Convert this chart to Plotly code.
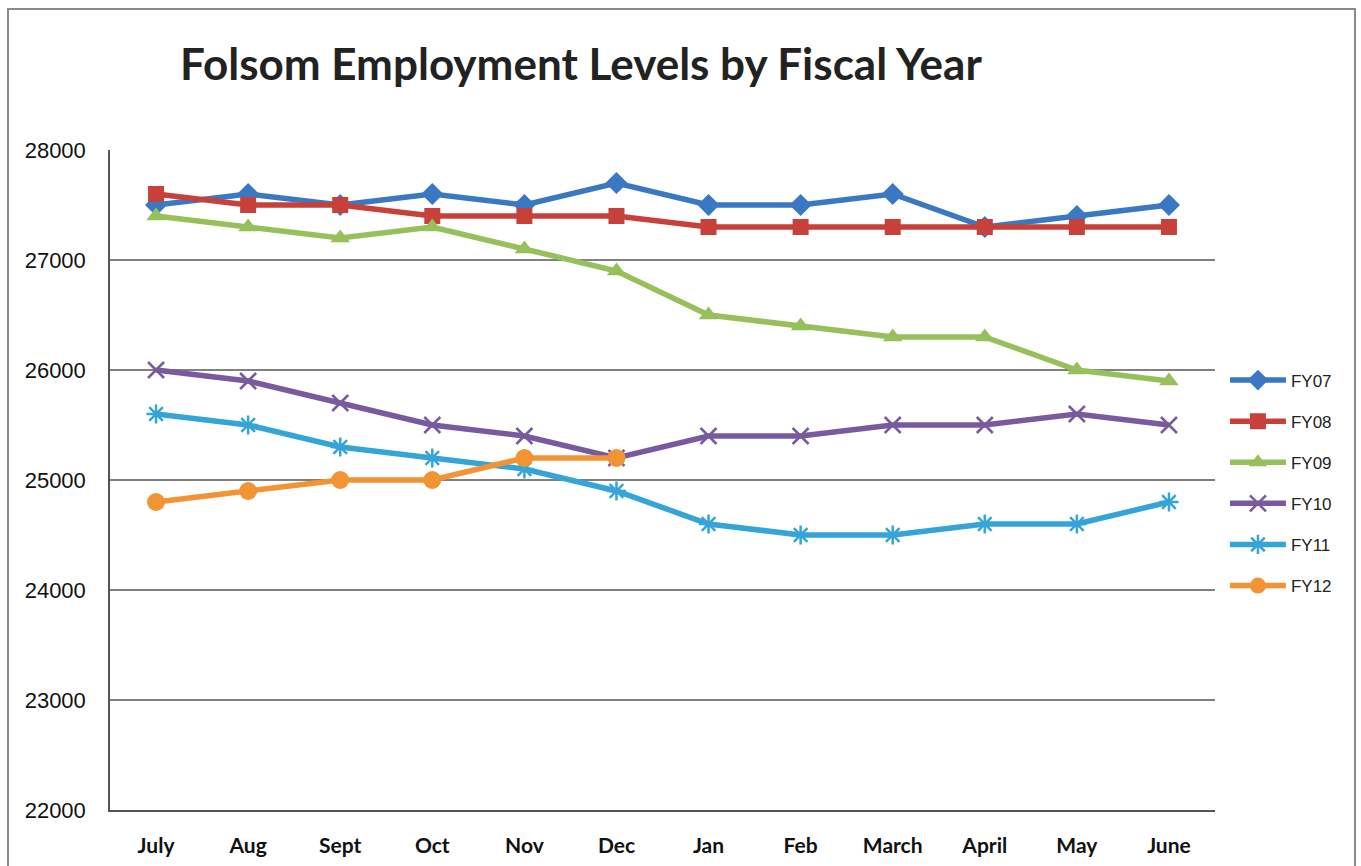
import plotly.graph_objects as go

months = ["July", "Aug", "Sept", "Oct", "Nov", "Dec", "Jan", "Feb", "March", "April", "May", "June"]
fy07 = [27500, 27600, 27500, 27600, 27500, 27700, 27500, 27500, 27600, 27300, 27400, 27500]
fy08 = [27600, 27500, 27500, 27400, 27400, 27400, 27300, 27300, 27300, 27300, 27300, 27300]
fy09 = [27400, 27300, 27200, 27300, 27100, 26900, 26500, 26400, 26300, 26300, 26000, 25900]
fy10 = [26000, 25900, 25700, 25500, 25400, 25200, 25400, 25400, 25500, 25500, 25600, 25500]
fy11 = [25600, 25500, 25300, 25200, 25100, 24900, 24600, 24500, 24500, 24600, 24600, 24800]
fy12 = [24800, 24900, 25000, 25000, 25200, 25200]
y_ticks = [22000, 23000, 24000, 25000, 26000, 27000, 28000]

series = [
    ("FY07", fy07, "#3b78c4", "diamond", 17),
    ("FY08", fy08, "#c8403a", "square", 16),
    ("FY09", fy09, "#97c05a", "triangle-up", 17),
    ("FY10", fy10, "#7a5a9e", "x-thin-open", 16),
    ("FY11", fy11, "#35a5d8", "asterisk-open", 16),
    ("FY12", fy12, "#f29434", "circle", 18),
]

fig = go.Figure()
for i, (name, vals, col, sym, sz) in enumerate(series):
    fig.add_trace(go.Scatter(
        x=months[:len(vals)], y=vals, name=name, mode="lines+markers",
        line=dict(color=col, width=5.5),
        marker=dict(symbol=sym, size=sz, color=col,
                    line=dict(color=col, width=2.5 if "open" in sym else 0)),
        legendgroup=name,
    ))

W0, W1 = 110, 1215
pw = W1 - W0
H0, H1 = 150, 810
ph = H1 - H0

fig.update_layout(
    width=1361, height=866,
    margin=dict(l=W0, r=1361 - W1, t=H0, b=866 - H1, autoexpand=False),
    paper_bgcolor="white", plot_bgcolor="white",
    title=dict(text="<b>Folsom Employment Levels by Fiscal Year</b>",
               font=dict(family="Lato", size=44, color="#222222"),
               xref="container", yref="container",
               x=180 / 1361, xanchor="left", y=1 - 65 / 866, yanchor="middle"),
    showlegend=True,
    legend=dict(x=1.009, xanchor="left", y=(H1 - 483) / ph, yanchor="middle",
                font=dict(family="Liberation Sans", size=17, color="#222222"),
                tracegroupgap=16, traceorder="grouped", itemwidth=56,
                bgcolor="rgba(0,0,0,0)"),
    font=dict(family="Liberation Sans", color="#111111"),
)
fig.update_xaxes(
    type="category", categoryorder="array", categoryarray=months,
    range=[-0.5, 11.5], showgrid=False, automargin=False,
    showline=True, linecolor="#555555", linewidth=1.5,
    tickfont=dict(family="Lato", size=21, color="#111111", weight="bold"),
    ticks="", ticklabelstandoff=16,
)
fig.update_yaxes(
    range=[22000, 28000], tickvals=y_ticks, ticktext=[str(v) for v in y_ticks],
    showgrid=True, gridcolor="#808080", gridwidth=1.5, automargin=False,
    showline=True, linecolor="#555555", linewidth=1.5,
    tickfont=dict(family="Liberation Sans", size=22, color="#111111"),
    ticks="", ticklabelstandoff=18, zeroline=False,
)
# outer chart frame
fig.add_shape(type="rect", xref="paper", yref="paper",
              x0=(8 - W0) / pw, x1=(1355 - W0) / pw,
              y0=(H1 - 870) / ph, y1=(H1 - 9) / ph,
              line=dict(color="#8a8a8a", width=2), layer="below")

fig.write_html("out.html")
